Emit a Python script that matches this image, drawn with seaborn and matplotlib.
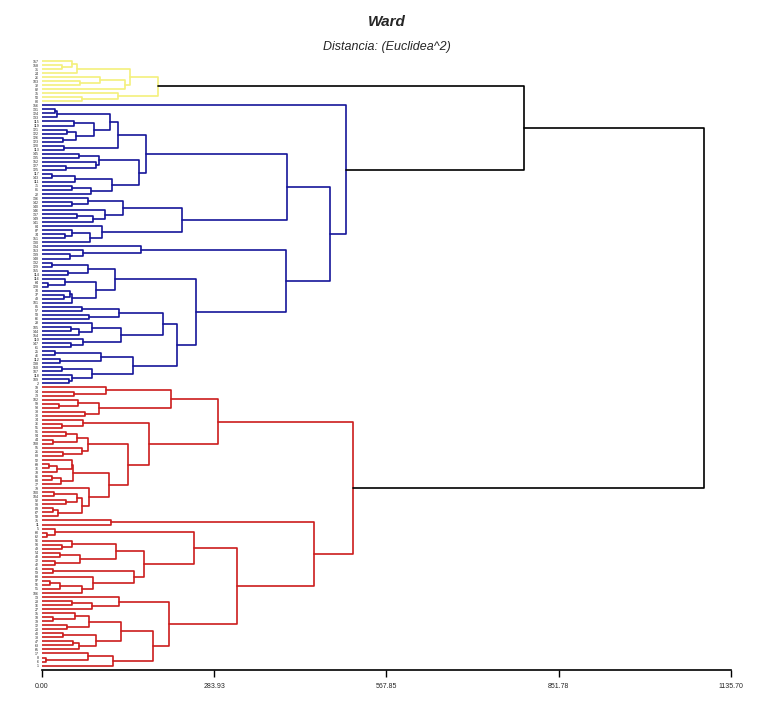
import matplotlib
matplotlib.use('Agg')
import matplotlib.pyplot as plt
import seaborn as sns
import pandas as pd

# Ward dendrogram, squared euclidean distance.
# Trees are nested (left, right, height); leaves are row positions (0 = top).

# yellow cluster
yellow_a = ((0, (1, 2, 32.5), 49), 3, 58)
yellow_b = ((4, (5, 6, 62.6), 95.6), 7, 136.8)
yellow_c = (8, (9, 10, 65.4), 125)
yellow_tree = ((yellow_a, yellow_b, 145), yellow_c, 191)

# blue cluster
blue_u1a = ((((12, 13, 21.4), 14, 25.2),
             ((15, 16, 52.7), ((17, 18, 40.7), (19, 20, 35.1), 55.5), 86.2), 112),
            (21, 22, 36.8), 125.8)
blue_u1b = (((23, 24, 61.5), (25, (26, 27, 39.6), 88.5), 94),
            (((28, 29, 17), 30, 54.4), ((31, 32, 50), 33, 80.3), 114.9), 159.9)
blue_u2 = (((34, (35, 36, 50), 76.3), (37, ((38, 39, 57.2), 40, 84.6), 103.8), 133),
           (41, ((42, (43, 44, 37.9), 50), 45, 79.1), 99.4), 231.3)
blue_l_top = (46, (47, (48, 49, 46.2), 68.1), 162.7)
blue_l_a = (((50, 51, 17), (52, 53, 43.3), 76.3),
            ((54, (55, 56, 10.4), 37.9), ((57, (58, 59, 36.3), 46.2), 60, 50), 89), 120.3)
blue_l_b = ((((61, 62, 66.4), (63, 64, 78), 127.4),
             ((65, ((66, 67, 48.3), 68, 61), 81.9), (69, (70, 71, 47.8), 68.1), 129.7), 199.9),
            (((72, 73, 21.4), (74, 75, 29.7), 96.8),
             ((76, 77, 33.5), (78, (79, 80, 45), 50), 82.9), 149.5), 223)
blue_upper = ((blue_u1a, blue_u1b, 171), blue_u2, 403.8)
blue_lower = (blue_l_top, (blue_l_a, blue_l_b, 253.3), 402.2)
blue_tree = (11, (blue_upper, blue_lower, 474.7), 501)

# red cluster
red_1a = ((81, (82, 83, 52.7), 105), ((84, (85, 86, 28.5), 59.8), (87, 88, 70.9), 94.4), 212)
red_1b_top = (89, (90, 91, 33.5), 68.1)
red_1b_mid = (((92, 93, 39.6), (94, 95, 18.6), 58.2), (96, (97, 98, 34.1), 66.4), 76.3)
red_1b_low = (((99, ((100, 101, 12), 102, 25.2), 50), ((103, 104, 17), 105, 31.3), 51.6),
              (106, (((107, 108, 19.8), (109, 110, 39.1), 58.2),
                     ((111, 112, 18.6), 113, 26.9), 66.4), 78), 110.9)
red_1 = (red_1a, (red_1b_top, (red_1b_mid, red_1b_low, 141.3), 176.4), 290.6)
red_2a = ((116, (117, 118, 7.7), 21.4),
          (((119, (120, 121, 32.5), 50), ((122, 123, 29.7), (124, 125, 21.4), 62.6), 121.5),
           ((126, 127, 17.6), (128, (((129, 130, 13.2), 131, 29.7), 132, 66.4), 83.6), 152.1),
           168.6), 251)
red_2b = ((133, ((134, 135, 50), 136, 82.9), 126.9),
          ((((137, (138, 139, 18.6), 54.4), (140, 141, 40.7), 78),
            ((142, 143, 35.1), ((144, 145, 51.6), 146, 61.5), 88.5), 129.7),
           ((147, (148, 149, 6.1), 76.3), 150, 117.5), 182.5), 209.8)
red_2 = ((114, 115, 113.7), (red_2a, red_2b, 320.9), 448.8)
red_tree = (red_1, red_2, 513.1)

yellow_blue_height = 794.5
root_height = 1091.2

leaf_labels = [157, 158, 31, 24, 26, 103, 32, 82, 35, 50, 80,
               156, 131, 124, 133, 115, 119, 121, 122, 126, 123, 120, 113, 145, 135, 152,
               127, 125, 117, 143, 111, 71, 81, 22, 136, 142, 140, 146, 137, 149, 141,
               84, 87, 74, 151, 130, 134, 153, 139, 148, 132, 129, 155, 114, 116, 64,
               128, 70, 37, 43, 101, 85, 57, 53, 66, 28, 105, 144, 154, 110, 147,
               61, 25, 46, 112, 138, 150, 107, 118, 109, 2,
               19, 14, 73, 102, 99, 93, 33, 30, 34, 36, 51, 91, 94, 44, 108, 95, 21,
               88, 52, 69, 76, 78, 86, 83, 77, 79, 100, 104, 92, 98, 89, 67, 58, 75,
               11, 5, 60, 62, 96, 90, 49, 54, 48, 72, 42, 41, 59, 68, 97, 56, 55, 106,
               13, 23, 16, 27, 15, 18, 39, 12, 20, 40, 38, 47, 63, 65, 17, 8, 6, 1]

axis_ticks = [0.00, 283.93, 567.85, 851.78, 1135.70]

cluster_colors = {'yellow': '#F4F07C', 'blue': '#15159A', 'red': '#CC1C1C', 'top': '#000000'}

rows = []


def add_link(left, right, h, group):
    """One U-shaped link between two children given as (position, height)."""
    (yl, hl), (yr, hr) = left, right
    link = len(rows) // 4
    for d, p in zip([hl, h, h, hr], [yl, yl, yr, yr]):
        rows.append((link, group, d, p))
    return (yl + yr) / 2, h


def walk(node, group):
    if isinstance(node, int):
        return float(node), 0.0
    left, right, h = node
    return add_link(walk(left, group), walk(right, group), h, group)


yellow_top = walk(yellow_tree, 'yellow')
blue_top = walk(blue_tree, 'blue')
red_top = walk(red_tree, 'red')
yb_top = add_link(yellow_top, blue_top, yellow_blue_height, 'top')
add_link(yb_top, red_top, root_height, 'top')

df = pd.DataFrame(rows, columns=['link', 'group', 'dist', 'pos'])

sns.set_theme(style="white")
plt.rcParams['font.family'] = ['Liberation Sans', 'DejaVu Sans']

fig = plt.figure(figsize=(7.62, 7.14), dpi=100)
ax = fig.add_axes([42 / 762, 1 - 670 / 714, 689 / 762, 612 / 714])

sns.lineplot(data=df, x='dist', y='pos', units='link', hue='group', palette=cluster_colors,
             estimator=None, sort=False, legend=False, linewidth=1.2, ax=ax)

ax.set_xlim(0, 1135.70)
ax.set_ylim(151.1, -0.75)
ax.set_xticks(axis_ticks)
ax.set_xticklabels([f"{v:.2f}" for v in axis_ticks], fontsize=5)
ax.set_yticks(range(len(leaf_labels)))
ax.set_yticklabels([str(v) for v in leaf_labels], fontsize=2.6)
ax.tick_params(axis='x', bottom=True, direction='out', length=5, width=1,
               color='black', pad=4)
ax.tick_params(axis='y', left=False, length=0, pad=2)
ax.set_xlabel('')
ax.set_ylabel('')
for side in ['top', 'right', 'left']:
    ax.spines[side].set_visible(False)
ax.spines['bottom'].set_color('black')
ax.spines['bottom'].set_linewidth(1.2)

fig.text(386.5 / 762, 1 - 22 / 714, 'Ward', ha='center', va='center',
         fontsize=11, fontweight='bold', fontstyle='italic')
fig.text(386.5 / 762, 1 - 47 / 714, 'Distancia: (Euclidea^2)', ha='center', va='center',
         fontsize=9, fontstyle='italic')

fig.savefig('out.png', dpi=100, facecolor='white')
